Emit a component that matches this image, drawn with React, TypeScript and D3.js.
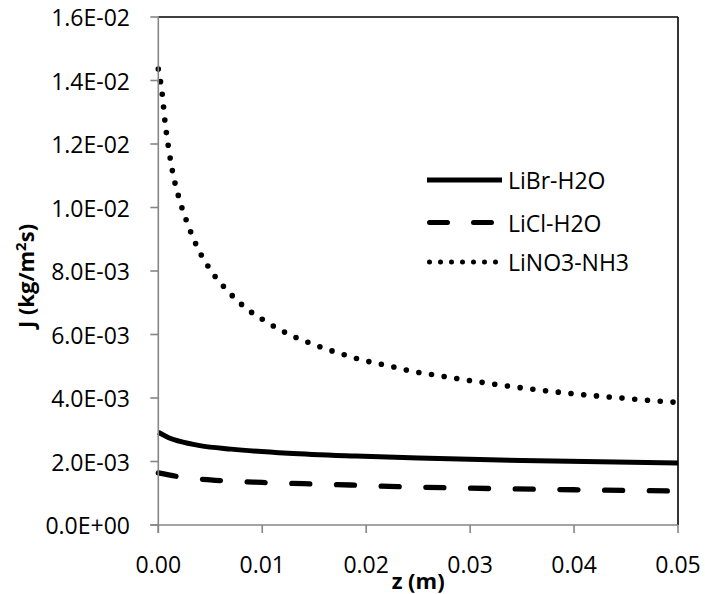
import React from "react";
import * as d3 from "d3";

// Mass flux along the film for three working pairs
const zLiBr = [0, 0.001, 0.002, 0.004, 0.007, 0.0125, 0.019, 0.026, 0.035, 0.05];
const jLiBr = [0.00292, 0.00275, 0.00264, 0.0025, 0.00239, 0.00226, 0.00217, 0.0021, 0.00203, 0.00195];

const zLiCl = [0, 0.002, 0.005, 0.01, 0.014, 0.0185, 0.023, 0.03, 0.04, 0.05];
const jLiCl = [0.00164, 0.00152, 0.00142, 0.00134, 0.0013, 0.00126, 0.00121, 0.00116, 0.00111, 0.00107];

const zLiNO3 = [0, 0.0004, 0.00065, 0.001, 0.0014, 0.002, 0.0028, 0.00375, 0.005, 0.0066, 0.0084, 0.0105, 0.0126, 0.015, 0.0173, 0.0197, 0.0222, 0.0246, 0.0259, 0.03, 0.034, 0.0383, 0.042, 0.0445, 0.047, 0.05];
const jLiNO3 = [0.01436, 0.01351, 0.01269, 0.01185, 0.01108, 0.01029, 0.0095, 0.00875, 0.00804, 0.0074, 0.00684, 0.00638, 0.006, 0.00568, 0.00542, 0.00519, 0.00501, 0.00483, 0.00476, 0.00455, 0.00436, 0.00419, 0.00407, 0.004, 0.00393, 0.00386];

const seriesNames = ["LiBr-H2O", "LiCl-H2O", "LiNO3-NH3"];
const xTicks = [0, 0.01, 0.02, 0.03, 0.04, 0.05];
const yTicks = [0, 0.002, 0.004, 0.006, 0.008, 0.01, 0.012, 0.014, 0.016];

const W = 705;
const H = 594;
const left = 158.3;
const right = 678;
const top = 17;
const bottom = 525;
const FONT = "'Open Sans', sans-serif";
const AXIS_GREY = "#868686";
const TICK_FONT = 23;

const fmtY = (v: number) => {
  const s = v.toExponential(1).toUpperCase(); // e.g. 1.6E-2
  const m = s.match(/^(-?[\d.]+)E([+-])(\d+)$/);
  if (!m) return s;
  return `${m[1]}E${m[2]}${m[3].padStart(2, "0")}`;
};

export default function App() {
  const x = d3.scaleLinear().domain([0, 0.05]).range([left, right]);
  const y = d3.scaleLinear().domain([0, 0.016]).range([bottom, top]);

  const line = d3
    .line<[number, number]>()
    .x((d) => x(d[0]))
    .y((d) => y(d[1]))
    .curve(d3.curveMonotoneX);

  const series = [
    { z: zLiBr, j: jLiBr, dash: undefined as string | undefined, width: 5 },
    { z: zLiCl, j: jLiCl, dash: "18,26.7", width: 5.3 },
    { z: zLiNO3, j: jLiNO3, dash: "0,12.8", width: 5.6 },
  ];

  const legendRows = [180, 222.5, 262];
  const legendDash = ["", "18,26", "0,11"];

  return (
    <svg
      width={W}
      height={H}
      style={{ position: "absolute", left: 0, top: 0, background: "#fff" }}
      fontFamily={FONT}
    >
      <rect x={0} y={0} width={W} height={H} fill="#fff" />
      <defs>
        <clipPath id="plotClip">
          <rect x={left - 4} y={top - 8} width={right - left + 7} height={bottom - top + 8} />
        </clipPath>
      </defs>

      {/* plot frame: dark top/right, grey axes left/bottom */}
      <line x1={left} y1={top} x2={right} y2={top} stroke="#000" strokeWidth={1.6} />
      <line x1={right} y1={top} x2={right} y2={bottom} stroke="#000" strokeWidth={1.6} />

      {/* data */}
      <g clipPath="url(#plotClip)">
        {series.map((s, i) => (
          <path
            key={i}
            d={line(s.z.map((zz, k) => [zz, s.j[k]] as [number, number])) || ""}
            fill="none"
            stroke="#000"
            strokeWidth={s.width}
            strokeDasharray={s.dash}
            strokeLinecap={s.dash ? "round" : "butt"}
          />
        ))}
      </g>

      <line x1={left} y1={top} x2={left} y2={bottom + 8} stroke={AXIS_GREY} strokeWidth={1.6} />
      <line x1={left - 8} y1={bottom} x2={right} y2={bottom} stroke={AXIS_GREY} strokeWidth={1.6} />

      {/* y axis */}
      {yTicks.map((t) => (
        <g key={`y${t}`}>
          <line x1={left - 8} x2={left} y1={y(t)} y2={y(t)} stroke={AXIS_GREY} strokeWidth={1.6} />
          <text
            x={130}
            y={y(t)}
            textAnchor="end"
            dominantBaseline="central"
            fontSize={TICK_FONT}
            fill="#000"
          >
            {fmtY(t)}
          </text>
        </g>
      ))}

      {/* x axis */}
      {xTicks.map((t) => (
        <g key={`x${t}`}>
          <line x1={x(t)} x2={x(t)} y1={bottom} y2={bottom + 8} stroke={AXIS_GREY} strokeWidth={1.6} />
          <text x={x(t)} y={573} textAnchor="middle" fontSize={TICK_FONT} fill="#000">
            {t.toFixed(2)}
          </text>
        </g>
      ))}

      {/* axis titles */}
      <text
        x={(left + right) / 2}
        y={589}
        textAnchor="middle"
        fontSize={22}
        fontWeight="bold"
        fill="#000"
      >
        z (m)
      </text>
      <text
        transform={`translate(34, ${(top + bottom) / 2 + 5}) rotate(-90)`}
        textAnchor="middle"
        fontSize={22}
        fontWeight="bold"
        fill="#000"
      >
        J (kg/m<tspan dy={-8} fontSize={15}>2</tspan>
        <tspan dy={8}>s)</tspan>
      </text>

      {/* legend */}
      {seriesNames.map((name, i) => (
        <g key={name}>
          <line
            x1={i === 0 ? 427 : 429.5}
            x2={i === 0 ? 502 : 500}
            y1={legendRows[i]}
            y2={legendRows[i]}
            stroke="#000"
            strokeWidth={i === 2 ? 5 : 5}
            strokeDasharray={legendDash[i] || undefined}
            strokeLinecap={i === 0 ? "butt" : "round"}
          />
          <text
            x={508}
            y={legendRows[i]}
            dominantBaseline="central"
            fontSize={TICK_FONT}
            fill="#000"
          >
            {name}
          </text>
        </g>
      ))}
    </svg>
  );
}
